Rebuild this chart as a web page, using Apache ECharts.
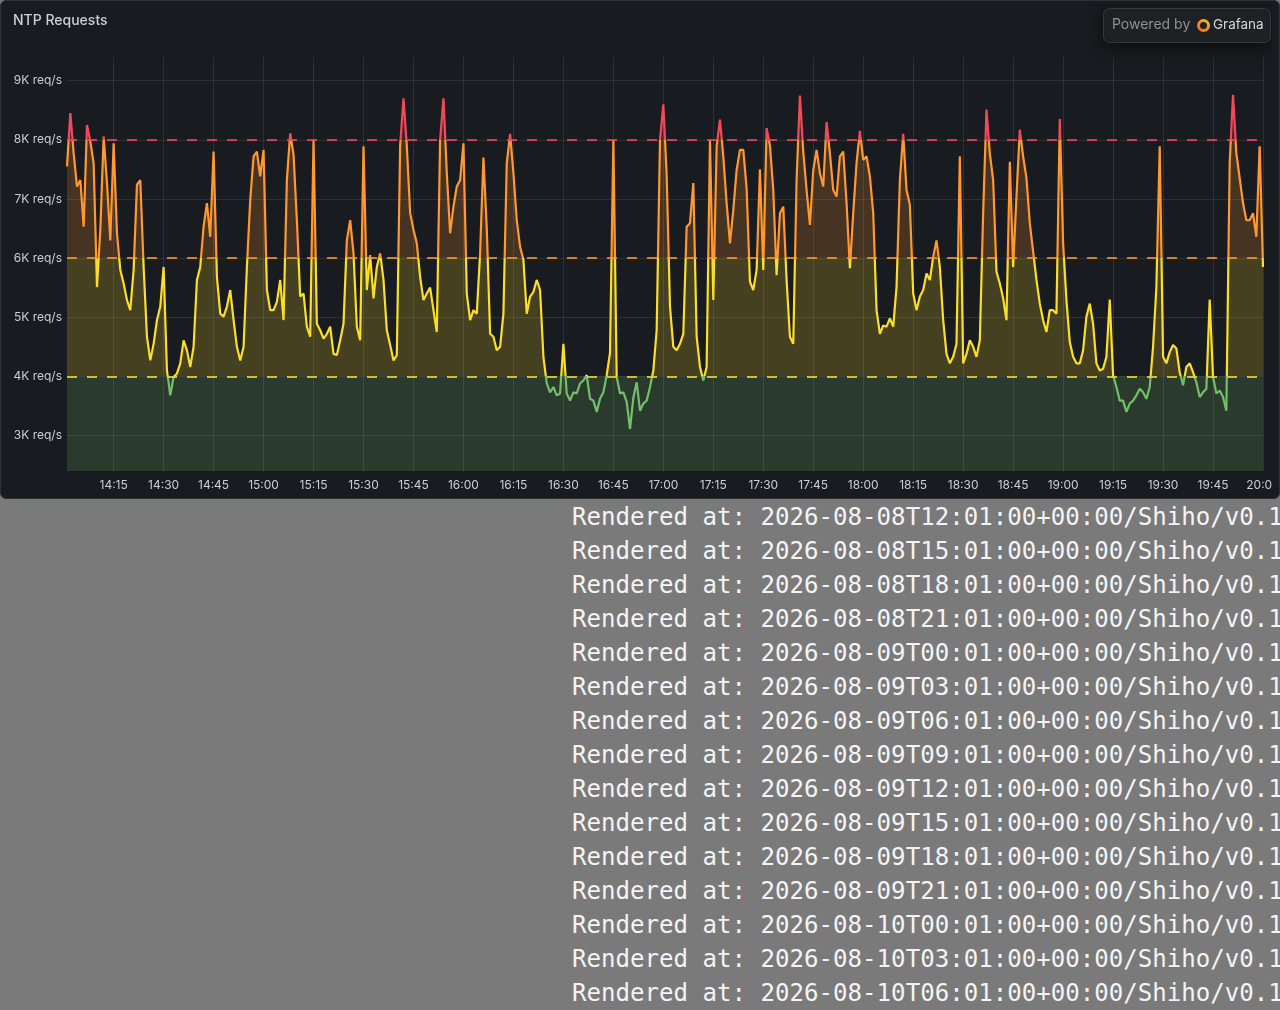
<!DOCTYPE html>
<html>
<head>
<meta charset="utf-8">
<title>NTP Requests</title>
<script src="https://cdn.jsdelivr.net/npm/echarts@6.0.0/dist/echarts.min.js"></script>
<style>
  html, body { margin: 0; padding: 0; width: 1280px; height: 1010px; overflow: hidden; background: #7a7a7a; }
  #panel { position: absolute; left: 0; top: 0; width: 1280px; height: 499px; box-sizing: border-box;
           background: #181b1f; border: 1px solid #303237; border-radius: 6px; }
  #chart { position: absolute; left: 0; top: 0; width: 1272px; height: 498px; }
  #rendered { position: absolute; left: 572px; top: 500px; font-family: 'DejaVu Sans Mono', monospace;
              font-size: 24.1px; line-height: 34px; color: #f4f4f4; white-space: pre; }
</style>
</head>
<body>
<div id="panel"></div>
<div id="chart"></div>
<div id="rendered"></div>
<script>
// requests per second, one value per minute from 14:01 to 20:00
var requests = [
  7550, 8450, 7770, 7210, 7320, 6530, 8250, 7970, 7600, 5510,
  6480, 8060, 7270, 6300, 7940, 6420, 5800, 5570, 5290, 5120,
  5800, 7240, 7320, 5850, 4670, 4270, 4550, 4950, 5180, 5850,
  4100, 3680, 3990, 4050, 4220, 4610, 4440, 4160, 4500, 5630,
  5850, 6530, 6930, 6360, 7800, 5680, 5060, 5010, 5180, 5460,
  4950, 4500, 4270, 4500, 5850, 6980, 7720, 7800, 7380, 7830,
  5460, 5120, 5120, 5260, 5630, 4950, 7320, 8110, 7750, 6640,
  5350, 5400, 4840, 4670, 8000, 4890, 4780, 4640, 4720, 4840,
  4380, 4360, 4610, 4890, 6300, 6640, 6080, 4840, 4610, 7890,
  5460, 6050, 5320, 5850, 6080, 5630, 4780, 4530, 4270, 4360,
  7900, 8700, 7900, 6760, 6480, 6250, 5680, 5290, 5400, 5500,
  5120, 4750, 8000, 8700, 7440, 6420, 6870, 7210, 7320, 7940,
  5400, 4950, 5120, 5060, 6080, 7700, 6500, 4720, 4670, 4440,
  4500, 5060, 7600, 8100, 7440, 6640, 6190, 5970, 5060, 5350,
  5430, 5630, 5460, 4330, 3880, 3730, 3820, 3680, 3710, 4550,
  3710, 3590, 3730, 3710, 3880, 3930, 4020, 3620, 3590, 3400,
  3620, 3730, 4020, 4400, 8000, 3990, 3710, 3730, 3570, 3110,
  3640, 3900, 3420, 3540, 3590, 3820, 4100, 4780, 8000, 8600,
  7400, 5180, 4500, 4440, 4550, 4720, 6530, 6590, 7270, 4670,
  4160, 3930, 4160, 8000, 5290, 7890, 8340, 7720, 6930, 6250,
  6810, 7490, 7830, 7830, 7180, 5600, 5460, 5800, 7500, 5800,
  8200, 7900, 7150, 5710, 6760, 6870, 5630, 4670, 4550, 7320,
  8750, 7800, 7150, 6560, 7490, 7830, 7440, 7210, 8300, 7770,
  7150, 7040, 7720, 7800, 6930, 5830, 6760, 7610, 8150, 7660,
  7720, 7380, 6760, 5120, 4720, 4860, 4840, 4980, 4840, 5510,
  7320, 8100, 7150, 6900, 5400, 5120, 5350, 5460, 5740, 5630,
  6020, 6300, 5850, 4950, 4380, 4220, 4330, 4550, 7720, 4220,
  4380, 4610, 4500, 4330, 4610, 6760, 8510, 7770, 7320, 5770,
  5570, 5320, 4950, 7630, 5850, 7040, 8170, 7720, 7350, 6590,
  6110, 5630, 5230, 4950, 4750, 5120, 5120, 5060, 8350, 6250,
  5290, 4580, 4330, 4220, 4220, 4440, 5010, 5230, 4890, 4220,
  4100, 4130, 4330, 5300, 4020, 3820, 3590, 3590, 3400, 3540,
  3590, 3680, 3790, 3730, 3620, 3820, 4500, 5510, 7890, 4330,
  4220, 4410, 4530, 4470, 4070, 3850, 4160, 4220, 4070, 3900,
  3650, 3730, 3790, 5300, 3990, 3710, 3760, 3650, 3420, 7610,
  8760, 7770, 7350, 6930, 6640, 6640, 6760, 6360, 7890, 5850
];

var tickLabels = ['14:15', '14:30', '14:45', '15:00', '15:15', '15:30', '15:45', '16:00',
  '16:15', '16:30', '16:45', '17:00', '17:15', '17:30', '17:45', '18:00', '18:15', '18:30',
  '18:45', '19:00', '19:15', '19:30', '19:45', '20:00'];

var thresholds = [4000, 6000, 8000];
var thresholdColors = ['#73bf69', '#fade2a', '#ff9830', '#f2495c'];

var renderedAt = [
  '2026-08-08T12:01:00+00:00', '2026-08-08T15:01:00+00:00', '2026-08-08T18:01:00+00:00',
  '2026-08-08T21:01:00+00:00', '2026-08-09T00:01:00+00:00', '2026-08-09T03:01:00+00:00',
  '2026-08-09T06:01:00+00:00', '2026-08-09T09:01:00+00:00', '2026-08-09T12:01:00+00:00',
  '2026-08-09T15:01:00+00:00', '2026-08-09T18:01:00+00:00', '2026-08-09T21:01:00+00:00',
  '2026-08-10T00:01:00+00:00', '2026-08-10T03:01:00+00:00', '2026-08-10T06:01:00+00:00'
];

var yMin = 2400, yMax = 9400;

function pad(n) { return (n < 10 ? '0' : '') + n; }

// category labels, one per minute
var minutes = [];
for (var m = 14 * 60 + 1; m <= 20 * 60; m++) {
  minutes.push(pad(Math.floor(m / 60)) + ':' + pad(m % 60));
}

function pieces(colors) {
  return [
    { lt: thresholds[0], color: colors[0] },
    { gte: thresholds[0], lt: thresholds[1], color: colors[1] },
    { gte: thresholds[1], lt: thresholds[2], color: colors[2] },
    { gte: thresholds[2], color: colors[3] }
  ];
}

function onTick(index, value) {
  return tickLabels.indexOf(value) >= 0;
}

var textColor = '#ccccdc';
var gridColor = 'rgba(204,204,220,0.12)';

var chart = echarts.init(document.getElementById('chart'));

var option = {
  backgroundColor: 'transparent',
  animation: false,
  title: {
    text: 'NTP Requests',
    left: 8,
    top: 9,
    textStyle: { color: textColor, fontSize: 14, fontWeight: 500, fontFamily: 'Inter' }
  },
  grid: { left: 67, top: 57, width: 1196, height: 414, outerBoundsMode: 'none' },
  xAxis: {
    type: 'category',
    data: minutes,
    boundaryGap: false,
    axisLine: { show: false },
    axisTick: { show: false },
    axisLabel: { interval: onTick, color: textColor, fontSize: 12, fontFamily: 'Inter', margin: 8 },
    splitLine: { show: true, interval: onTick, lineStyle: { color: gridColor, width: 1 } }
  },
  yAxis: {
    type: 'value',
    min: yMin,
    max: yMax,
    splitNumber: 7,
    axisLine: { show: false },
    axisTick: { show: false },
    axisLabel: {
      color: textColor, fontSize: 12, fontFamily: 'Inter', margin: 5,
      showMinLabel: false, showMaxLabel: false,
      formatter: function (v) { return (v / 1000) + 'K req/s'; }
    },
    splitLine: { lineStyle: { color: gridColor, width: 1 }, showMinLine: false, showMaxLine: false }
  },
  visualMap: [
    { type: 'piecewise', show: false, seriesIndex: 0, dimension: 1, pieces: pieces(thresholdColors) },
    { type: 'piecewise', show: false, seriesIndex: 1, dimension: 1,
      pieces: pieces(['rgba(0,0,0,0)', thresholdColors[1], thresholdColors[2], thresholdColors[3]]) }
  ],
  series: [
    {
      name: 'requests',
      type: 'line',
      data: requests,
      showSymbol: false,
      symbol: 'none',
      z: 4,
      lineStyle: { width: 2.2 },
      markLine: {
        silent: true,
        symbol: 'none',
        label: { show: false },
        lineStyle: { type: [10, 10], width: 2, opacity: 0.8 },
        data: thresholds.map(function (t, i) {
          return { yAxis: t, lineStyle: { color: thresholdColors[i + 1] } };
        })
      }
    },
    {
      name: 'fill',
      type: 'line',
      data: requests,
      showSymbol: false,
      symbol: 'none',
      silent: true,
      z: 2,
      lineStyle: { width: 0 },
      areaStyle: { opacity: 0.2, origin: 'start' },
      markArea: {
        silent: true,
        itemStyle: { color: 'rgba(115,191,105,0.2)' },
        data: [[{ yAxis: yMin }, { yAxis: thresholds[0] }]]
      }
    }
  ],
  graphic: [
    {
      type: 'rect',
      shape: { x: 1103.5, y: 8.5, width: 167, height: 34, r: 6 },
      style: { fill: '#1f2125', stroke: '#35383d', lineWidth: 1,
               shadowBlur: 16, shadowOffsetY: 4, shadowColor: 'rgba(0,0,0,0.55)' },
      z: 10
    },
    {
      type: 'text',
      x: 1112, y: 25,
      style: { text: 'Powered by', fill: '#8e9097', font: '14px Inter', verticalAlign: 'middle' },
      z: 11
    },
    {
      type: 'circle',
      shape: { cx: 1203.5, cy: 25.5, r: 5 },
      style: {
        fill: 'none', lineWidth: 3,
        stroke: new echarts.graphic.LinearGradient(0, 1, 1, 0, [
          { offset: 0, color: '#f05a28' }, { offset: 1, color: '#fbca0a' }
        ])
      },
      z: 11
    },
    {
      type: 'text',
      x: 1213, y: 25,
      style: { text: 'Grafana', fill: '#d8d9dc', font: '13.5px Inter', verticalAlign: 'middle' },
      z: 11
    }
  ]
};

chart.setOption(option);

document.getElementById('rendered').textContent = renderedAt.map(function (t) {
  return 'Rendered at: ' + t + '/Shiho/v0.1';
}).join('\n');
</script>
</body>
</html>
